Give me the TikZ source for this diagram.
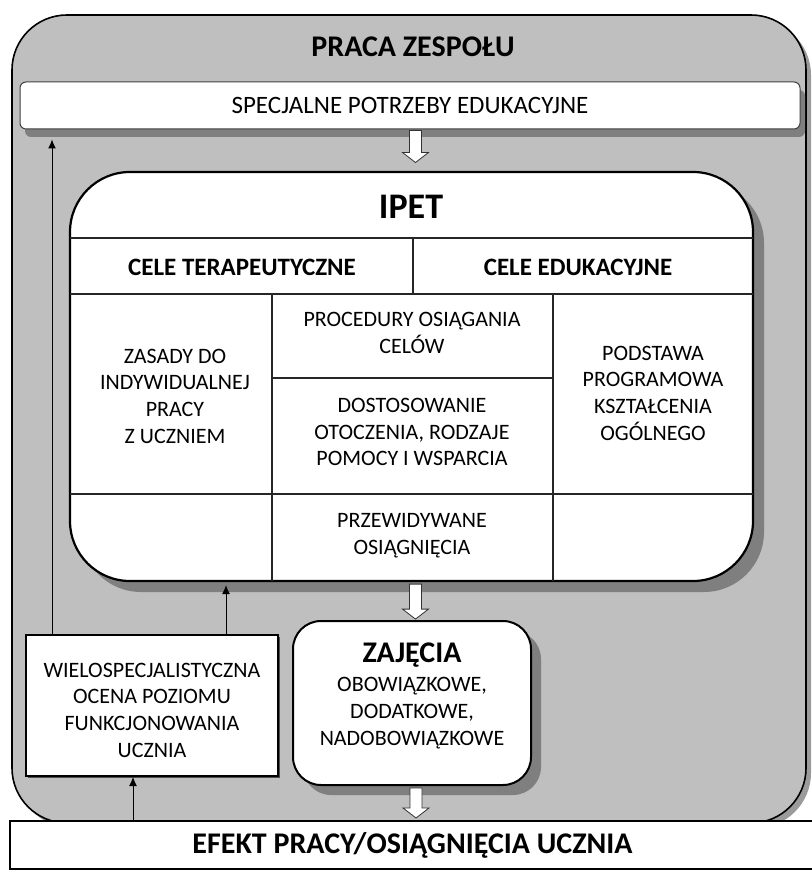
\documentclass[tikz,border=0pt]{standalone}
\usepackage{fontspec}
\setmainfont{Carlito}
\usepackage{tikz}
\usetikzlibrary{arrows.meta,shadows,calc}

\definecolor{panel}{HTML}{BFBFBF}
\definecolor{shade}{HTML}{7F7F7F}
\definecolor{lightshade}{HTML}{9B9B9B}

\begin{document}
\begin{tikzpicture}[
    -,>={Latex[length=9pt,width=8pt]},
    x=1pt, y=-1pt,
    txt/.style = {font=\fontsize{22}{26.7}\selectfont, align=center, inner sep=0pt},
    bold txt/.style = {font=\fontsize{25}{30}\selectfont\bfseries, align=center, inner sep=0pt},
    big txt/.style = {font=\fontsize{30}{36}\selectfont\bfseries, inner sep=0pt},
    grid/.style = {draw=black!85, line width=1.3pt},
    hollow/.style = {draw=black!80, line width=0.8pt, fill=white},
    panel node/.style={draw, line width=1.6pt, fill=panel, rounded corners=55pt,
        drop shadow={shadow xshift=5pt, shadow yshift=-5pt, fill=lightshade, opacity=1}},
    top node/.style={draw=black!75, line width=1pt, fill=white, rounded corners=6pt,
        font=\fontsize{25}{30}\selectfont,
        drop shadow={shadow xshift=5pt, shadow yshift=-8pt, fill=shade, opacity=1}},
    main node/.style={draw, line width=2.2pt, fill=white, rounded corners=60pt,
        drop shadow={shadow xshift=11pt, shadow yshift=-11pt, fill=shade, opacity=1}},
    side node/.style={draw, line width=2pt, fill=white,
        drop shadow={shadow xshift=2pt, shadow yshift=-2pt, fill=black!70, opacity=1}},
    act node/.style={draw, line width=2pt, fill=white, rounded corners=28pt,
        drop shadow={shadow xshift=10pt, shadow yshift=-10pt, fill=shade, opacity=1}},
    end node/.style={draw, line width=2pt, fill=white, font=\fontsize{30}{36}\selectfont\bfseries}
]
\useasboundingbox (0,0) rectangle (811,874);

% Nodes
\node[panel node, minimum width=794pt, minimum height=808pt] (team) at (409,419) {};
\node[big txt] (lteam) at (413,47) {PRACA ZESPOŁU};

\node[top node, minimum width=780pt, minimum height=47pt] (spe) at (410,105.5) {SPECJALNE POTRZEBY EDUKACYJNE};

\node[main node, minimum width=683pt, minimum height=409pt] (ipet) at (411.5,376.5) {};
\node[font=\fontsize{36}{40}\selectfont\bfseries, inner sep=0pt] (lipet) at (411,207) {IPET};

% Table inside IPET
\draw[grid] (70,238) -- (753,238);
\draw[grid] (413,238) -- (413,294);
\draw[grid] (70,294) -- (753,294);
\draw[grid] (272,294) -- (272,581);
\draw[grid] (553,294) -- (553,581);
\draw[grid] (272,378) -- (553,378);
\draw[grid] (70,494) -- (753,494);

\node[bold txt] (tera) at (242,267) {CELE TERAPEUTYCZNE};
\node[bold txt] (edu) at (578,267) {CELE EDUKACYJNE};
\node[txt] (zas) at (175,396) {ZASADY DO\\INDYWIDUALNEJ\\PRACY\\Z UCZNIEM};
\node[txt] (proc) at (412,333) {PROCEDURY OSIĄGANIA\\CELÓW};
\node[txt] (dost) at (412,432) {DOSTOSOWANIE\\OTOCZENIA, RODZAJE\\POMOCY I WSPARCIA};
\node[txt] (pods) at (653,393) {PODSTAWA\\PROGRAMOWA\\KSZTAŁCENIA\\OGÓLNEGO};
\node[txt] (przew) at (412,536) {PRZEWIDYWANE\\OSIĄGNIĘCIA};

\node[side node, minimum width=252pt, minimum height=141pt] (wielo) at (152,705.5) {};
\node[txt] (lwielo) at (152,710) {WIELOSPECJALISTYCZNA\\OCENA POZIOMU\\FUNKCJONOWANIA\\UCZNIA};

\node[act node, minimum width=238pt, minimum height=164pt] (zaj) at (412,703) {};
\node[big txt] (lzaj) at (412,655) {ZAJĘCIA};
\node[txt] (lrodz) at (412,713) {OBOWIĄZKOWE,\\DODATKOWE,\\NADOBOWIĄZKOWE};

\node[end node, minimum width=805pt, minimum height=48pt] (effect) at (412.5,845) {EFEKT PRACY/OSIĄGNIĘCIA UCZNIA};

% Hollow arrows
\draw[hollow] ($(ipet.north |- spe.south)+(4,1)$) ++(-6,0) -- ++(0,22) -- ++(-7,0)
    -- ++(13,10) -- ++(13,-10) -- ++(-7,0) -- ++(0,-22) -- cycle;
\draw[hollow] ($(ipet.south)+(4,2)$) ++(-6,0) -- ++(0,25) -- ++(-7,0)
    -- ++(13,10) -- ++(13,-10) -- ++(-7,0) -- ++(0,-25) -- cycle;
\draw[hollow] ($(zaj.south)+(4,2)$) ++(-6,0) -- ++(0,20) -- ++(-7,0)
    -- ++(13,10) -- ++(13,-10) -- ++(-7,0) -- ++(0,-20) -- cycle;

% Edges
\draw[->, line width=1pt] (wielo.north -| 52,0) -- ($(spe.south -| 52,0)+(0,10)$);
\draw[->, line width=1pt] (wielo.north -| 226,0) -- ($(ipet.south -| 226,0)+(0,3)$);
\draw[->, line width=1pt] (effect.north -| 133,0) -- (wielo.south -| 133,0);

\end{tikzpicture}
\end{document}
